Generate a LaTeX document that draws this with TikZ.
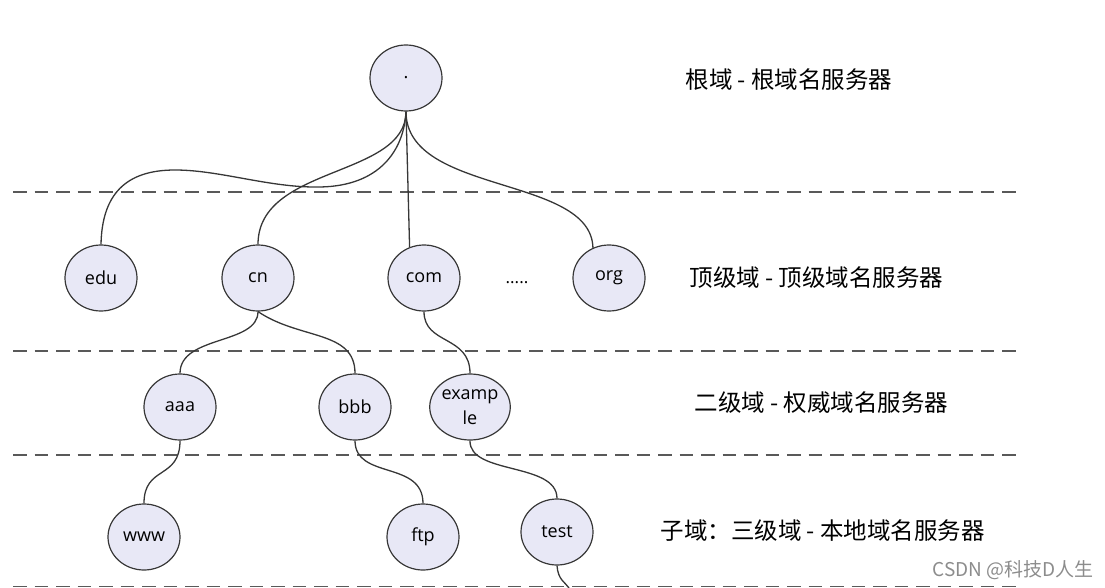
\documentclass[tikz,border=0pt]{standalone}
\usepackage{fontspec}
\setmainfont{Open Sans}
\newfontfamily\cjk{Noto Sans CJK SC}
\usepackage{tikz}
\usetikzlibrary{shapes.geometric}
\definecolor{nodefill}{RGB}{232,232,246}
\definecolor{edgecol}{RGB}{55,55,55}
\tikzset{
  dn/.style={ellipse,draw=edgecol,line width=1.2pt,fill=nodefill,minimum width=72pt,minimum height=66pt,inner sep=0pt,align=center,font=\fontsize{18}{25}\selectfont},
  lk/.style={draw=edgecol,line width=1.3pt},
  sep/.style={draw=black!65,line width=1.5pt,dash pattern=on 13.5pt off 8pt},
  lab/.style={anchor=west,font=\cjk\fontsize{23.5}{28}\selectfont},
  wm/.style={anchor=west,text=black!45,font=\cjk\fontsize{19}{22}\selectfont}
}

\begin{document}
\begin{tikzpicture}[x=1pt,y=-1pt]
\useasboundingbox (0,0) rectangle (1105,588);
% level separators
\foreach \y in {192,351,455,586.5} \draw[sep] (13,\y) -- (1020,\y);
% domain tree
\node[dn] (root) at (406,78) {.};
\node[dn] (edu) at (101,278) {edu};
\node[dn] (cn) at (258,278) {cn};
\node[dn] (com) at (424,278) {com};
\node[dn] (org) at (609,278) {org};
\node[font=\fontsize{17}{20}\selectfont] (dots) at (517,283) {.....};
\node[dn] (aaa) at (180,407) {aaa};
\node[dn] (bbb) at (355,407) {bbb};
\node[dn] (ex) at (470,407) {examp\\le};
\node[dn] (www) at (144,537) {www};
\node[dn] (ftp) at (423,537) {ftp};
\node[dn] (test) at (557,532) {test};
\coordinate (tail) at (569,588);
\draw[lk] (root.south) .. controls (404,150) and (380,186) .. (320,187) .. controls (270,188) and (220,170) .. (175,170) .. controls (125,170) and (102,195) .. (edu.north);
\draw[lk] (root.south) .. controls (406,178) and (258,165) .. (cn.north);
\draw[lk] (root.south) -- (com.115);
\draw[lk] (root.south) .. controls (406,195) and (591,175) .. (org.118);
\draw[lk] (cn.south) .. controls (258,345) and (180,335) .. (aaa.north);
\draw[lk] (cn.south) .. controls (300,340) and (355,330) .. (bbb.north);
\draw[lk] (com.south) .. controls (424,345) and (470,335) .. (ex.north);
\draw[lk] (aaa.south) .. controls (180,480) and (144,465) .. (www.north);
\draw[lk] (bbb.south) .. controls (355,480) and (423,460) .. (ftp.north);
\draw[lk] (ex.south) .. controls (469,475) and (557,462) .. (test.north);
\draw[lk] (test.south) .. controls (558,580) and (565,582) .. (tail);
% level labels
\node[lab] (l0) at (682,80) {根域 - 根域名服务器};
\node[lab] (l1) at (686,278) {顶级域 - 顶级域名服务器};
\node[lab] (l2) at (691,403) {二级域 - 权威域名服务器};
\node[lab] (l3) at (657,531) {子域：三级域 - 本地域名服务器};
\node[wm] (csdn) at (929,570) {CSDN @科技D人生};
\end{tikzpicture}
\end{document}
